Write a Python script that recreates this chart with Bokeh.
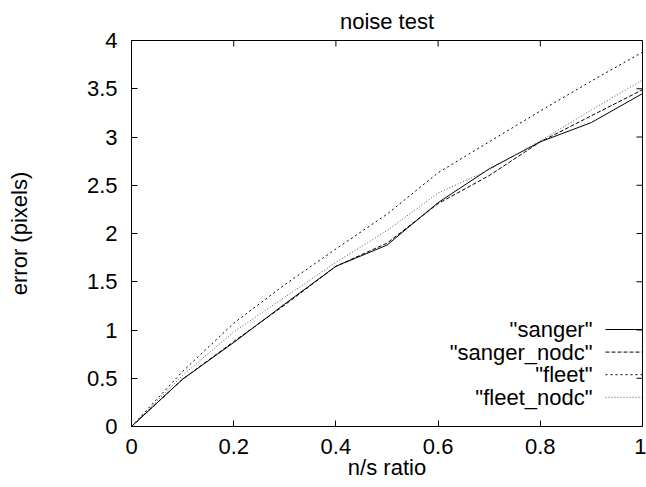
from bokeh.plotting import figure
from bokeh.models import Range1d, FixedTicker
from bokeh.embed import file_html
from bokeh.resources import INLINE
from bokeh.core.properties import value

# ---- data ----
ratio = [0.0, 0.1, 0.2, 0.3, 0.4, 0.5, 0.6, 0.7, 0.8, 0.9, 1.0]
sanger = [0.0, 0.49, 0.87, 1.27, 1.66, 1.88, 2.32, 2.67, 2.95, 3.15, 3.45]
sanger_nodc = [0.0, 0.49, 0.88, 1.26, 1.66, 1.90, 2.31, 2.60, 2.95, 3.22, 3.49]
fleet = [0.0, 0.57, 1.07, 1.47, 1.84, 2.20, 2.63, 2.95, 3.27, 3.58, 3.88]
fleet_nodc = [0.0, 0.53, 0.98, 1.34, 1.70, 2.03, 2.42, 2.66, 2.96, 3.28, 3.59]
series_names = ['"sanger"', '"sanger_nodc"', '"fleet"', '"fleet_nodc"']

x_ticks = [0.0, 0.2, 0.4, 0.6, 0.8, 1.0]
x_tick_labels = ["0", "0.2", "0.4", "0.6", "0.8", "1"]
y_ticks = [0.0, 0.5, 1.0, 1.5, 2.0, 2.5, 3.0, 3.5, 4.0]
y_tick_labels = ["0", "0.5", "1", "1.5", "2", "2.5", "3", "3.5", "4"]
title_text = "noise test"

FONT = "Liberation Sans"
FS = "22px"

p = figure(width=646, height=487, output_backend="svg", toolbar_location=None,
           x_range=Range1d(0, 1), y_range=Range1d(0, 4),
           min_border_left=131, min_border_right=4, min_border_top=40,
           min_border_bottom=61, title=title_text)
p.background_fill_color = "white"
p.border_fill_color = "white"
p.outline_line_color = "black"
p.outline_line_width = 1
p.grid.visible = False

p.title.align = "center"
p.title.vertical_align = "top"
p.title.text_font = FONT
p.title.text_font_size = FS
p.title.text_font_style = "normal"
p.title.text_color = "black"
p.title.standoff = 10

px_per_y = 386 / 4.0
px_per_x = 511 / 1.0
tick_len = 6


def style_axis(ax):
    ax.axis_line_color = "black"
    ax.major_tick_line_color = "black"
    ax.major_tick_in = 6
    ax.major_tick_out = 0
    ax.minor_tick_line_color = None
    ax.major_label_text_font = FONT
    ax.major_label_text_color = "black"
    ax.major_label_text_font_size = FS
    ax.axis_label_text_font = FONT
    ax.axis_label_text_font_size = FS
    ax.axis_label_text_font_style = "normal"
    ax.axis_label_text_color = "black"


xa = p.xaxis[0]
xa.ticker = FixedTicker(ticks=x_ticks)
xa.major_label_overrides = dict(zip(x_ticks, x_tick_labels))
style_axis(xa)
xa.major_label_standoff = 12
xa.axis_label = "n/s ratio"
xa.axis_label_standoff = -2

ya = p.yaxis[0]
ya.ticker = FixedTicker(ticks=y_ticks)
ya.major_label_overrides = dict(zip(y_ticks, y_tick_labels))
style_axis(ya)
ya.major_label_standoff = 14
ya.axis_label = "error (pixels)"
ya.axis_label_standoff = 52

# mirrored inward ticks on the top and right edges
p.segment(x0=x_ticks, y0=[4.0] * len(x_ticks), x1=x_ticks,
          y1=[4.0 - tick_len / px_per_y] * len(x_ticks),
          line_color="black", line_width=1)
p.segment(x0=[1.0] * len(y_ticks), y0=y_ticks,
          x1=[1.0 - tick_len / px_per_x] * len(y_ticks), y1=y_ticks,
          line_color="black", line_width=1)

styles = [
    dict(line_color="black", line_dash="solid"),
    dict(line_color="black", line_dash="4 2"),
    dict(line_color="black", line_dash="2 3"),
    dict(line_color="#555555", line_dash="1 2"),
]
series = [sanger, sanger_nodc, fleet, fleet_nodc]

for vals, st in zip(series, styles):
    p.line(ratio, vals, line_width=1, **st)

# legend (gnuplot style: text on the left, sample on the right)
row0 = 97 / px_per_y
step = 22.6 / px_per_y
text_x = 1.0 - 50 / px_per_x
samp_x0 = 1.0 - 37 / px_per_x
for i, (name, st) in enumerate(zip(series_names, styles)):
    yy = row0 - i * step
    p.text(x=[text_x], y=[yy], text=[name], text_align="right",
           text_baseline="middle", text_font=value(FONT),
           text_font_size=FS, text_color="black")
    p.line([samp_x0, 1.0], [yy, yy], line_width=1, **st)

open("out.html", "w").write(file_html(p, INLINE))
